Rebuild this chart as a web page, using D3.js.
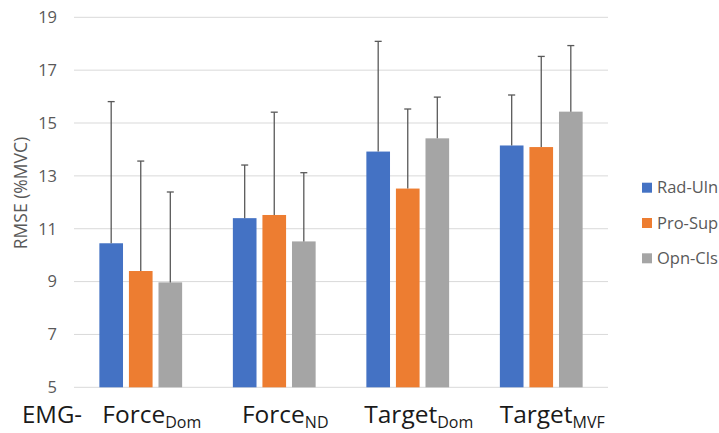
<!DOCTYPE html>
<html>
<head>
<meta charset="utf-8">
<script src="https://cdn.jsdelivr.net/npm/d3@7"></script>
<style>
  html, body { margin: 0; padding: 0; background: #fff; }
  svg { display: block; font-family: "Open Sans", "Liberation Sans", sans-serif; }
</style>
</head>
<body>
<svg id="chart" width="719" height="433"></svg>
<script>
// ---- data ----
const categories = ["ForceDom", "ForceND", "TargetDom", "TargetMVF"];
const catMain = ["Force", "Force", "Target", "Target"];
const catSub = ["Dom", "ND", "Dom", "MVF"];
const series = ["Rad-Uln", "Pro-Sup", "Opn-Cls"];
const radUln = [10.45, 11.40, 13.92, 14.15];
const proSup = [9.40, 11.52, 12.52, 14.09];
const opnCls = [8.97, 10.52, 14.42, 15.43];
const radUlnErr = [5.36, 2.01, 4.17, 1.91];
const proSupErr = [4.16, 3.89, 3.01, 3.43];
const opnClsErr = [3.42, 2.60, 1.56, 2.50];
const yTicks = [5, 7, 9, 11, 13, 15, 17, 19];
const colors = ["#4472C4", "#ED7D31", "#A5A5A5"];

const values = [radUln, proSup, opnCls];
const errors = [radUlnErr, proSupErr, opnClsErr];

const svg = d3.select("#chart");
const plot = { left: 74, right: 608, top: 17.3, bottom: 387.3 };

const x0 = d3.scaleBand().domain(categories).range([plot.left, plot.right]).padding(0);
const gw = x0.bandwidth();
const x1 = d3.scaleBand().domain(series).range([gw * 0.19, gw * 0.81]).paddingInner(0.2).paddingOuter(0);
const y = d3.scaleLinear().domain([5, 19]).range([plot.bottom, plot.top]);

// gridlines
svg.append("g").selectAll("line").data(yTicks).join("line")
  .attr("x1", plot.left).attr("x2", plot.right)
  .attr("y1", d => y(d)).attr("y2", d => y(d))
  .attr("stroke", "#d9d9d9").attr("stroke-width", 1);

// y axis labels
const yAxis = d3.axisLeft(y).tickValues(yTicks).tickSize(0).tickPadding(0).tickFormat(d3.format("d"));
const ga = svg.append("g").attr("transform", `translate(${plot.left - 17},0)`).call(yAxis);
ga.select(".domain").remove();
ga.selectAll("text").attr("fill", "#595959").style("font-size", "16.5px")
  .style("font-family", "'Open Sans', sans-serif");

// y title
svg.append("text")
  .attr("transform", "translate(27,193) rotate(-90)")
  .attr("text-anchor", "middle")
  .attr("fill", "#595959")
  .style("font-size", "17.5px")
  .text("RMSE (%MVC)");

// bars
const groups = svg.append("g").selectAll("g").data(categories).join("g")
  .attr("transform", d => `translate(${x0(d)},0)`);

groups.each(function(cat, ci) {
  const g = d3.select(this);
  series.forEach((s, si) => {
    const v = values[si][ci];
    const e = errors[si][ci];
    const bx = x1(s);
    const bw = x1.bandwidth();
    g.append("rect")
      .attr("x", bx).attr("width", bw)
      .attr("y", y(v)).attr("height", y(5) - y(v))
      .attr("fill", colors[si]);
    const cx = bx + bw / 2;
    g.append("line")
      .attr("x1", cx).attr("x2", cx)
      .attr("y1", y(v)).attr("y2", y(v + e))
      .attr("stroke", "#595959").attr("stroke-width", 1.3);
    g.append("line")
      .attr("x1", cx - 3.5).attr("x2", cx + 3.5)
      .attr("y1", y(v + e)).attr("y2", y(v + e))
      .attr("stroke", "#595959").attr("stroke-width", 1.3);
  });
});

// category labels
const catText = svg.append("g").selectAll("text").data(categories).join("text")
  .attr("x", d => x0(d) + gw / 2 + 11)
  .attr("y", 422.5)
  .attr("text-anchor", "middle")
  .attr("fill", "#1a1a1a")
  .style("font-size", "24.5px");
catText.append("tspan").text((d, i) => catMain[i]);
catText.append("tspan").attr("dy", 5).style("font-size", "16px").text((d, i) => catSub[i]);

svg.append("text")
  .attr("x", 22).attr("y", 422.5)
  .attr("fill", "#1a1a1a")
  .style("font-size", "24px")
  .text("EMG-");

// legend
const legend = svg.append("g").selectAll("g").data(series).join("g")
  .attr("transform", (d, i) => `translate(642,${187.7 + i * 35.3})`);
legend.append("rect").attr("x", 0).attr("y", -5).attr("width", 10).attr("height", 10)
  .attr("fill", (d, i) => colors[i]);
legend.append("text").attr("x", 15).attr("y", 0).attr("dy", "0.35em")
  .attr("fill", "#595959").style("font-size", "16.5px").text(d => d);
</script>
</body>
</html>
